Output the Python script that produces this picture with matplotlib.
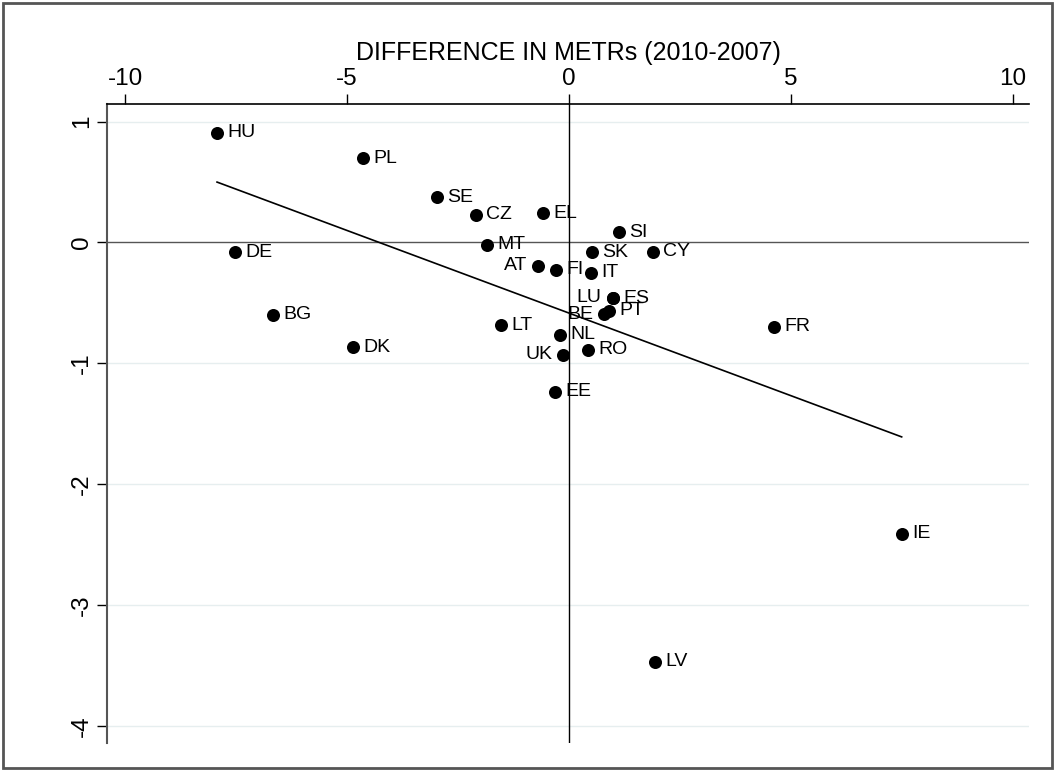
import matplotlib
matplotlib.use("Agg")
import matplotlib.pyplot as plt
from matplotlib.patches import Rectangle
import numpy as np

plt.rcParams['font.family'] = ['Liberation Sans', 'DejaVu Sans']

countries = ["HU", "PL", "SE", "CZ", "EL", "SI", "MT", "DE", "SK", "CY",
             "AT", "FI", "IT", "ES", "LU", "BE", "PT", "BG", "LT", "NL",
             "FR", "DK", "UK", "RO", "EE", "IE", "LV"]
x_diff = [-7.93, -4.65, -2.975, -2.10, -0.58, 1.12, -1.855, -7.53, 0.51, 1.89,
          -0.69, -0.29, 0.49, 1.00, 0.99, 0.80, 0.91, -6.67, -1.53, -0.20,
          4.62, -4.87, -0.13, 0.42, -0.32, 7.50, 1.94]
y_diff = [0.909, 0.697, 0.374, 0.228, 0.242, 0.084, -0.021, -0.081, -0.081, -0.076,
          -0.195, -0.228, -0.25, -0.462, -0.46, -0.594, -0.567, -0.60, -0.685, -0.766,
          -0.70, -0.87, -0.931, -0.89, -1.235, -2.413, -3.47]
left_labels = ["LU", "BE", "UK", "AT"]

x_ticks = [-10, -5, 0, 5, 10]
y_ticks = [1, 0, -1, -2, -3, -4]
x_title = "DIFFERENCE IN METRs (2010-2007)"

W, H = 1055, 771
fig = plt.figure(figsize=(W / 100, H / 100), dpi=100)
ax = fig.add_axes([107 / W, 1 - 743 / H, (1029 - 107) / W, (743 - 104) / H])

ax.set_xlim(-10.41, 10.37)
ax.set_ylim(-4.143, 1.145)

# grid
for yt in y_ticks:
    if yt != 0:
        ax.axhline(yt, color="#e6eeef", lw=1.0, zorder=0)
ax.axhline(0, color="#555555", lw=1.0, zorder=1)
ax.axvline(0, color="black", lw=1.0, zorder=1)

xs = np.array(x_diff)
ys = np.array(y_diff)
ax.scatter(xs, ys, s=88, color="black", zorder=3, linewidths=0)

coef = np.polyfit(xs, ys, 1)
xl = np.array([xs.min(), xs.max()])
ax.plot(xl, np.polyval(coef, xl), color="black", lw=1.2, zorder=2)

for c, xv, yv in zip(countries, x_diff, y_diff):
    if c in left_labels:
        ax.annotate(c, (xv, yv), xytext=(-8, 0), textcoords="offset points",
                    ha="right", va="center", fontsize=14, zorder=4)
    else:
        ax.annotate(c, (xv, yv), xytext=(7.5, 0), textcoords="offset points",
                    ha="left", va="center", fontsize=14, zorder=4)

ax.xaxis.tick_top()
ax.xaxis.set_label_position("top")
ax.set_xticks(x_ticks)
ax.set_xticklabels([str(t) for t in x_ticks])
ax.set_yticks(y_ticks)
ax.set_yticklabels([str(t) for t in y_ticks], rotation=90, va="center")
ax.tick_params(axis="both", length=7, width=1.0, color="black", labelsize=17.5, pad=3)
ax.set_xlabel(x_title, fontsize=18, labelpad=6)

for s in ["right", "bottom"]:
    ax.spines[s].set_visible(False)
ax.spines["left"].set_color("#555555")
ax.spines["left"].set_linewidth(1.5)
ax.spines["top"].set_color("black")
ax.spines["top"].set_linewidth(1.2)

fig.patches.append(Rectangle((3 / W, 3 / H), (W - 6) / W, (H - 6) / H,
                             transform=fig.transFigure, fill=False,
                             edgecolor="#555555", lw=2))

fig.savefig("out.png", dpi=100)
